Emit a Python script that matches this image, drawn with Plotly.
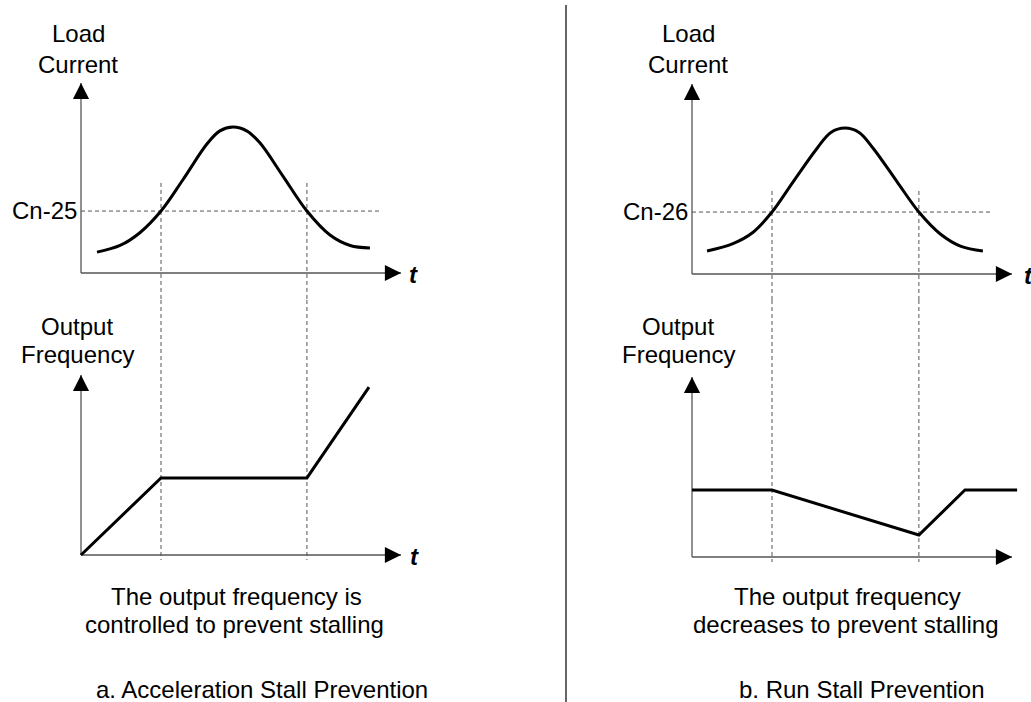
import plotly.graph_objects as go

W, H = 1031, 702

# ---------------- data (time in arbitrary units, axes run 0..10) ----------------
# a. Acceleration stall prevention
a_cross_t = [2.5, 7.06]                       # times where current crosses Cn-25
a_cur_t = [0.5, 1.22, 1.84, 2.5, 3.19, 3.94, 4.34, 4.75, 5.19, 5.59, 6.31, 7.06, 7.78, 8.41, 9.03]
a_cur_v = [1.1, 1.45, 2.12, 3.26, 4.92, 6.8, 7.48, 7.68, 7.47, 6.85, 5.1, 3.26, 2.0, 1.45, 1.32]
a_thr = 3.26
a_thr_end = 9.34
a_freq_t = [0, 2.5, 7.06, 9.0]
a_freq_v = [0, 4.28, 4.28, 9.33]

# b. Run stall prevention
b_cross_t = [2.5, 7.09]
b_cur_t = [0.47, 1.28, 1.91, 2.5, 3.16, 3.91, 4.34, 4.78, 5.22, 5.66, 6.41, 7.09, 7.75, 8.41, 9.09]
b_cur_v = [1.21, 1.6, 2.2, 3.26, 4.85, 6.62, 7.45, 7.68, 7.45, 6.62, 4.85, 3.26, 2.12, 1.45, 1.21]
b_thr = 3.26
b_thr_end = 9.38
b_freq_t = [0, 2.5, 7.09, 8.53, 10.16]
b_freq_v = [3.72, 3.72, 1.22, 3.72, 3.72]

dash_top = [4.74, 4.37]        # where the vertical guides start (current units)
dash_bottom = -0.28            # where they end (frequency units)

thr_labels = ["Cn-25", "Cn-26"]
top_label = ["Load", "Current"]
bot_label = ["Output", "Frequency"]
captions_a = ["The output frequency is", "controlled to prevent stalling", "a. Acceleration Stall Prevention"]
captions_b = ["The output frequency", "decreases to prevent stalling", "b. Run Stall Prevention"]

FONT = "Liberation Sans, Arial, Helvetica, sans-serif"
AX_COL = "#555555"
DASH_COL = "#555555"


def xmap(p0, p1, origin, scale):
    return dict(domain=[p0 / W, p1 / W], range=[(p0 - origin) / scale, (p1 - origin) / scale])


def ymap(p0, p1, origin, scale):
    return dict(domain=[1 - p1 / H, 1 - p0 / H], range=[(origin - p1) / scale, (origin - p0) / scale])


def px(x):
    return x / W


def py(y):
    return 1 - y / H


# panel geometry (pixel frame)
SX = 32.0
panels = {
    1: (xmap(40, 440, 81, SX), ymap(0, 300, 273, 19.0)),      # a current
    2: (xmap(40, 440, 81, SX), ymap(300, 600, 555, 18.0)),    # a frequency
    3: (xmap(600, 1031, 692, SX), ymap(0, 300, 274, 19.0)),   # b current
    4: (xmap(600, 1031, 692, SX), ymap(300, 600, 557, 18.0)), # b frequency
}

fig = go.Figure()
layout = dict(
    width=W, height=H, margin=dict(l=0, r=0, t=0, b=0),
    paper_bgcolor="white", plot_bgcolor="rgba(0,0,0,0)",
    showlegend=False, hovermode=False,
    font=dict(family=FONT, size=24, color="black"),
)
for i, (xa, ya) in panels.items():
    sfx = "" if i == 1 else str(i)
    layout["xaxis" + sfx] = dict(domain=xa["domain"], range=xa["range"], visible=False,
                                 anchor="y" + sfx, fixedrange=True)
    layout["yaxis" + sfx] = dict(domain=ya["domain"], range=ya["range"], visible=False,
                                 anchor="x" + sfx, fixedrange=True)
fig.update_layout(**layout)


def ref(i):
    sfx = "" if i == 1 else str(i)
    return "x" + sfx, "y" + sfx


def add_line(i, xs, ys, color="black", width=3, dash=None, shape="linear"):
    xr, yr = ref(i)
    fig.add_trace(go.Scatter(x=xs, y=ys, mode="lines", xaxis=xr, yaxis=yr,
                             line=dict(color=color, width=width, dash=dash, shape=shape,
                                       smoothing=1.0 if shape == "spline" else None),
                             hoverinfo="skip"))


annotations = []


def add_axes(i):
    xr, yr = ref(i)
    add_line(i, [0, 10], [0, 0], color=AX_COL, width=1.3)
    add_line(i, [0, 0], [0, 10], color=AX_COL, width=1.3)
    for (x, y, ax, ay) in [(10, 0, 9.75, 0), (0, 10, 0, 9.55)]:
        annotations.append(dict(x=x, y=y, ax=ax, ay=ay, xref=xr, yref=yr, axref=xr, ayref=yr,
                                text="", showarrow=True, arrowhead=2, arrowsize=2.3,
                                arrowwidth=1.4, arrowcolor="black"))


for i in panels:
    add_axes(i)

# vertical dashed guides through both charts of each panel
for top, bot, cross, dtop in [(1, 2, a_cross_t, dash_top[0]), (3, 4, b_cross_t, dash_top[1])]:
    top_bottom = panels[top][1]["range"][0]
    bot_top = panels[bot][1]["range"][1]
    for t in cross:
        add_line(top, [t, t], [dtop, top_bottom], color=DASH_COL, width=1, dash="4px,3px")
        add_line(bot, [t, t], [bot_top, dash_bottom], color=DASH_COL, width=1, dash="4px,3px")

# threshold lines
add_line(1, [0, a_thr_end], [a_thr, a_thr], color=DASH_COL, width=1, dash="4px,3px")
add_line(3, [0, b_thr_end], [b_thr, b_thr], color=DASH_COL, width=1, dash="4px,3px")

# curves
add_line(1, a_cur_t, a_cur_v, width=3, shape="spline")
add_line(3, b_cur_t, b_cur_v, width=3, shape="spline")
add_line(2, a_freq_t, a_freq_v, width=3)
add_line(4, b_freq_t, b_freq_v, width=3)

# threshold labels
for i, lab, thr in [(1, thr_labels[0], a_thr), (3, thr_labels[1], b_thr)]:
    xr, yr = ref(i)
    annotations.append(dict(x=0, y=thr, xref=xr, yref=yr, text=lab, showarrow=False,
                            xanchor="right", yanchor="middle", xshift=-2, yshift=1))

# "t" labels
for i, xs in [(1, 6), (2, 7), (3, 10), (4, 18)]:
    xr, yr = ref(i)
    annotations.append(dict(x=10, y=0, xref=xr, yref=yr, text="<b><i>t</i></b>", showarrow=False,
                            xanchor="left", yanchor="middle", xshift=xs, yshift=-1))

# axis titles
for cx, lines, ys in [(78, top_label, (34, 64)), (688, top_label, (34, 64)),
                      (77, bot_label, (326, 354)), (678, bot_label, (326, 354))]:
    for txt, y in zip(lines, ys):
        annotations.append(dict(x=px(cx), y=py(y), xref="paper", yref="paper", text=txt,
                                showarrow=False, xanchor="center", yanchor="middle"))

# captions
for (cx, y), txt in zip([(236, 596), (234, 624), (262, 689)], captions_a):
    annotations.append(dict(x=px(cx), y=py(y), xref="paper", yref="paper", text=txt,
                            showarrow=False, xanchor="center", yanchor="middle"))
for (cx, y), txt in zip([(847, 596), (846, 624), (861, 689)], captions_b):
    annotations.append(dict(x=px(cx), y=py(y), xref="paper", yref="paper", text=txt,
                            showarrow=False, xanchor="center", yanchor="middle"))

fig.update_layout(annotations=annotations)

# panel separator
fig.add_shape(type="line", xref="paper", yref="paper", x0=px(566), x1=px(566), y0=py(5), y1=py(702),
              line=dict(color="#333333", width=1.5))

fig.write_html("out.html", config={"displayModeBar": False},
               post_script="document.body.style.margin='0px';document.body.style.overflow='hidden';")
